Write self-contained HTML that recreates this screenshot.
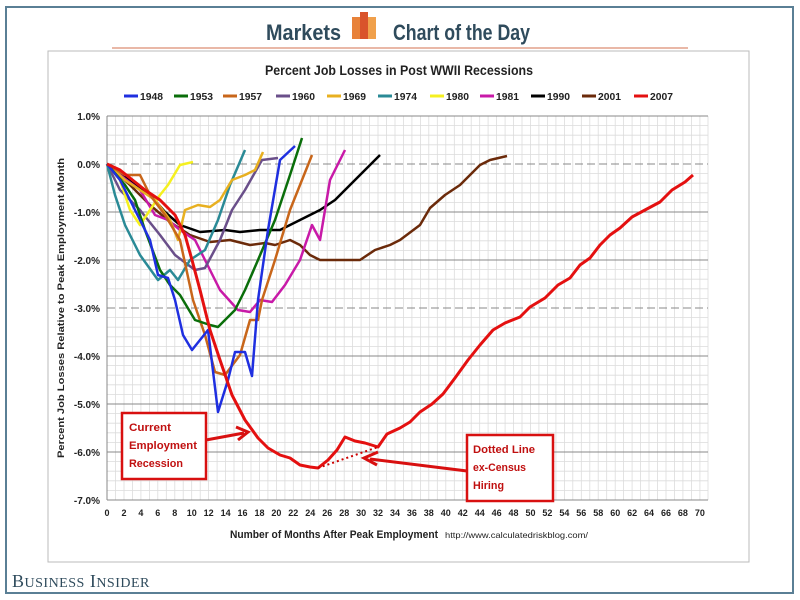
<!DOCTYPE html>
<html><head><meta charset="utf-8"><style>
html,body{margin:0;padding:0;background:#fff;width:800px;height:600px;overflow:hidden}
svg{display:block;font-family:"Liberation Sans",sans-serif}
</style></head><body>
<svg width="800" height="600" viewBox="0 0 800 600" xmlns="http://www.w3.org/2000/svg">
<rect x="6" y="7" width="787" height="586" fill="#fff" stroke="#5a7f95" stroke-width="2"/>
<text x="266" y="40" font-size="22" font-weight="bold" fill="#2f4b5c" textLength="75" lengthAdjust="spacingAndGlyphs">Markets</text>
<rect x="352" y="17" width="8" height="22" fill="#e8823a"/>
<rect x="360" y="12" width="8" height="27" fill="#d9532b"/>
<rect x="368" y="17" width="8" height="22" fill="#f0a04b"/>
<text x="393" y="40" font-size="22" font-weight="bold" fill="#2f4b5c" textLength="137" lengthAdjust="spacingAndGlyphs">Chart of the Day</text>
<line x1="112" y1="48" x2="688" y2="48" stroke="#e2a18a" stroke-width="1.5"/>
<rect x="48" y="51" width="701" height="511" fill="#fff" stroke="#bbb" stroke-width="1"/>
<text x="265" y="75" font-size="13.5" font-weight="bold" fill="#222" textLength="268" lengthAdjust="spacingAndGlyphs">Percent Job Losses in Post WWII Recessions</text>
<g font-size="10.5" font-weight="bold" fill="#222">
<line x1="124" y1="96" x2="138" y2="96" stroke="#1f2fe0" stroke-width="3"/><text x="140" y="100" textLength="23" lengthAdjust="spacingAndGlyphs">1948</text>
<line x1="174" y1="96" x2="188" y2="96" stroke="#0a6e0a" stroke-width="3"/><text x="190" y="100" textLength="23" lengthAdjust="spacingAndGlyphs">1953</text>
<line x1="223" y1="96" x2="237" y2="96" stroke="#c8661a" stroke-width="3"/><text x="239" y="100" textLength="23" lengthAdjust="spacingAndGlyphs">1957</text>
<line x1="276" y1="96" x2="290" y2="96" stroke="#6a4f8a" stroke-width="3"/><text x="292" y="100" textLength="23" lengthAdjust="spacingAndGlyphs">1960</text>
<line x1="327" y1="96" x2="341" y2="96" stroke="#e8b020" stroke-width="3"/><text x="343" y="100" textLength="23" lengthAdjust="spacingAndGlyphs">1969</text>
<line x1="378" y1="96" x2="392" y2="96" stroke="#2a8a96" stroke-width="3"/><text x="394" y="100" textLength="23" lengthAdjust="spacingAndGlyphs">1974</text>
<line x1="430" y1="96" x2="444" y2="96" stroke="#f5f020" stroke-width="3"/><text x="446" y="100" textLength="23" lengthAdjust="spacingAndGlyphs">1980</text>
<line x1="480" y1="96" x2="494" y2="96" stroke="#c81aa8" stroke-width="3"/><text x="496" y="100" textLength="23" lengthAdjust="spacingAndGlyphs">1981</text>
<line x1="531" y1="96" x2="545" y2="96" stroke="#000" stroke-width="3"/><text x="547" y="100" textLength="23" lengthAdjust="spacingAndGlyphs">1990</text>
<line x1="582" y1="96" x2="596" y2="96" stroke="#6b2a0a" stroke-width="3"/><text x="598" y="100" textLength="23" lengthAdjust="spacingAndGlyphs">2001</text>
<line x1="634" y1="96" x2="648" y2="96" stroke="#e41010" stroke-width="3"/><text x="650" y="100" textLength="23" lengthAdjust="spacingAndGlyphs">2007</text>
</g>
<g stroke="#dcdcdc" stroke-width="0.8">
<path d="M107 116V500M115.5 116V500M124 116V500M132.4 116V500M140.9 116V500M149.4 116V500M157.8 116V500M166.3 116V500M174.8 116V500M183.2 116V500M191.7 116V500M200.2 116V500M208.6 116V500M217.1 116V500M225.6 116V500M234 116V500M242.5 116V500M251 116V500M259.5 116V500M267.9 116V500M276.4 116V500M284.9 116V500M293.3 116V500M301.8 116V500M310.3 116V500M318.7 116V500M327.2 116V500M335.7 116V500M344.2 116V500M352.6 116V500M361.1 116V500M369.6 116V500M378 116V500M386.5 116V500M395 116V500M403.4 116V500M411.9 116V500M420.4 116V500M428.8 116V500M437.3 116V500M445.8 116V500M454.3 116V500M462.7 116V500M471.2 116V500M479.7 116V500M488.1 116V500M496.6 116V500M505.1 116V500M513.5 116V500M522 116V500M530.5 116V500M538.9 116V500M547.4 116V500M555.9 116V500M564.4 116V500M572.8 116V500M581.3 116V500M589.8 116V500M598.2 116V500M606.7 116V500M615.2 116V500M623.6 116V500M632.1 116V500M640.6 116V500M649 116V500M657.5 116V500M666 116V500M674.5 116V500M682.9 116V500M691.4 116V500M699.9 116V500M708 116V500"/>
<path d="M107 125.6H708M107 135.2H708M107 144.8H708M107 154.4H708M107 173.6H708M107 183.2H708M107 192.8H708M107 202.4H708M107 221.6H708M107 231.2H708M107 240.8H708M107 250.4H708M107 269.6H708M107 279.2H708M107 288.8H708M107 298.4H708M107 317.6H708M107 327.2H708M107 336.8H708M107 346.4H708M107 365.6H708M107 375.2H708M107 384.8H708M107 394.4H708M107 413.6H708M107 423.2H708M107 432.8H708M107 442.4H708M107 461.6H708M107 471.2H708M107 480.8H708M107 490.4H708"/>
</g>
<g stroke="#888" stroke-width="1">
<path d="M107 116H708M107 212H708M107 260H708M107 356H708M107 404H708M107 452H708M107 500H708M107 116V500"/>
<path d="M107 164H708M107 308H708" stroke-dasharray="8,4"/>
</g>
<g font-size="10" font-weight="bold" fill="#222" text-anchor="end">
<text x="100" y="120">1.0%</text><text x="100" y="168">0.0%</text><text x="100" y="216">-1.0%</text><text x="100" y="264">-2.0%</text><text x="100" y="312">-3.0%</text><text x="100" y="360">-4.0%</text><text x="100" y="408">-5.0%</text><text x="100" y="456">-6.0%</text><text x="100" y="504">-7.0%</text>
</g>
<g font-size="9" font-weight="bold" fill="#222" text-anchor="middle">
<text x="107" y="516">0</text><text x="124" y="516">2</text><text x="140.9" y="516">4</text><text x="157.8" y="516">6</text><text x="174.8" y="516">8</text><text x="191.7" y="516">10</text><text x="208.6" y="516">12</text><text x="225.6" y="516">14</text><text x="242.5" y="516">16</text><text x="259.5" y="516">18</text><text x="276.4" y="516">20</text><text x="293.3" y="516">22</text><text x="310.3" y="516">24</text><text x="327.2" y="516">26</text><text x="344.2" y="516">28</text><text x="361.1" y="516">30</text><text x="378" y="516">32</text><text x="395" y="516">34</text><text x="411.9" y="516">36</text><text x="428.8" y="516">38</text><text x="445.8" y="516">40</text><text x="462.7" y="516">42</text><text x="479.7" y="516">44</text><text x="496.6" y="516">46</text><text x="513.5" y="516">48</text><text x="530.5" y="516">50</text><text x="547.4" y="516">52</text><text x="564.4" y="516">54</text><text x="581.3" y="516">56</text><text x="598.2" y="516">58</text><text x="615.2" y="516">60</text><text x="632.1" y="516">62</text><text x="649" y="516">64</text><text x="666" y="516">66</text><text x="682.9" y="516">68</text><text x="699.9" y="516">70</text>
</g>
<text x="230" y="538" font-size="11" font-weight="bold" fill="#222" textLength="208" lengthAdjust="spacingAndGlyphs">Number of Months After Peak Employment</text>
<text x="445" y="538" font-size="8.5" fill="#222" textLength="143" lengthAdjust="spacingAndGlyphs">http://www.calculatedriskblog.com/</text>
<text transform="translate(64,308) rotate(-90)" font-size="9.5" font-weight="bold" text-anchor="middle" fill="#222" textLength="300" lengthAdjust="spacingAndGlyphs">Percent Job Losses Relative to Peak Employment Month</text>
<g fill="none" stroke-width="2.5" stroke-linejoin="round">
<polyline stroke="#6b2a0a" points="107,164 130,185 150,205 170,222 190,235 210,242 230,240 250,245 265,243 275,245 290,240 300,245 310,255 320,260 340,260 360,260 375,250 390,245 400,240 420,225 430,208 445,195 460,185 470,175 480,165 490,160 507,156"/>
<polyline stroke="#000" points="107,164 130,180 150,195 165,212 180,225 200,232 225,230 240,232 260,230 280,230 300,220 320,210 335,200 350,185 370,165 380,155"/>
<polyline stroke="#c81aa8" points="107,164 120,175 140,190 155,215 168,220 180,230 195,240 205,260 220,290 238,310 250,312 260,300 272,302 285,285 300,260 312,225 320,240 330,180 345,150"/>
<polyline stroke="#6a4f8a" points="107,164 120,190 140,210 160,235 175,255 195,270 205,268 220,240 232,210 245,190 262,160 278,158"/>
<polyline stroke="#2a8a96" points="107,164 115,195 125,225 140,255 158,280 170,270 178,280 190,260 205,250 218,220 230,185 245,150"/>
<polyline stroke="#e8b020" points="107,164 125,180 140,190 155,200 170,220 178,240 185,210 198,205 210,207 220,200 232,180 245,175 255,170 263,152"/>
<polyline stroke="#f5f020" points="107,164 120,180 130,210 140,225 150,210 160,195 168,185 180,165 193,162"/>
<polyline stroke="#c8661a" points="107,164 125,175 140,175 150,195 165,215 180,240 193,300 205,335 215,372 225,375 240,355 250,320 258,320 262,300 275,260 290,210 312,155"/>
<polyline stroke="#0a6e0a" points="107,164 125,185 135,200 145,230 160,270 170,285 180,295 195,320 210,325 218,327 235,310 245,290 258,260 275,220 290,175 302,138"/>
<polyline stroke="#1f2fe0" points="107,164 120,180 135,210 150,240 158,275 168,278 175,300 183,335 192,350 200,340 208,330 218,412 228,380 235,352 245,352 252,376 258,300 268,230 280,160 295,146"/>
<polyline stroke="#e41010" stroke-width="3" points="107,164 120,170 130,178 145,190 160,200 175,215 185,235 192,260 200,290 210,330 220,360 232,395 245,420 258,438 268,448 280,455 290,458 300,465 310,467 318,468 328,460 337,450 345,437 355,441 365,443 378,447 387,434 400,428 410,422 420,412 432,404 443,394 455,378 468,360 480,345 493,330 505,323 520,317 530,307 545,298 558,285 570,278 580,265 590,258 600,245 610,235 620,228 632,217 645,210 660,202 672,190 685,182 693,175"/>
<line x1="318" y1="468" x2="378" y2="447" stroke="#c00" stroke-width="2" stroke-dasharray="2,3"/>
</g>
<g stroke="#d81010" stroke-width="3" fill="none">
<line x1="206" y1="440" x2="244" y2="433"/>
<polyline points="236,427 248,432 238,440"/>
<line x1="467" y1="471" x2="370" y2="459"/>
<polyline points="378,452 364,458 377,465"/>
</g>
<rect x="122" y="413" width="84" height="66" fill="#fff" stroke="#d81010" stroke-width="2.5"/>
<rect x="467" y="435" width="86" height="66" fill="#fff" stroke="#d81010" stroke-width="2.5"/>
<g font-size="11" font-weight="bold" fill="#c01010">
<text x="129" y="431" textLength="42" lengthAdjust="spacingAndGlyphs">Current</text><text x="129" y="449" textLength="68" lengthAdjust="spacingAndGlyphs">Employment</text><text x="129" y="467" textLength="54" lengthAdjust="spacingAndGlyphs">Recession</text>
<text x="473" y="453" textLength="62" lengthAdjust="spacingAndGlyphs">Dotted  Line</text><text x="473" y="471" textLength="53" lengthAdjust="spacingAndGlyphs">ex-Census</text><text x="473" y="489" textLength="31" lengthAdjust="spacingAndGlyphs">Hiring</text>
</g>
<text x="12" y="587" font-family="Liberation Serif, serif" font-size="18" fill="#2f4b5c" letter-spacing="0.5">B<tspan font-size="14">USINESS</tspan> I<tspan font-size="14">NSIDER</tspan></text>
</svg>
</body></html>
